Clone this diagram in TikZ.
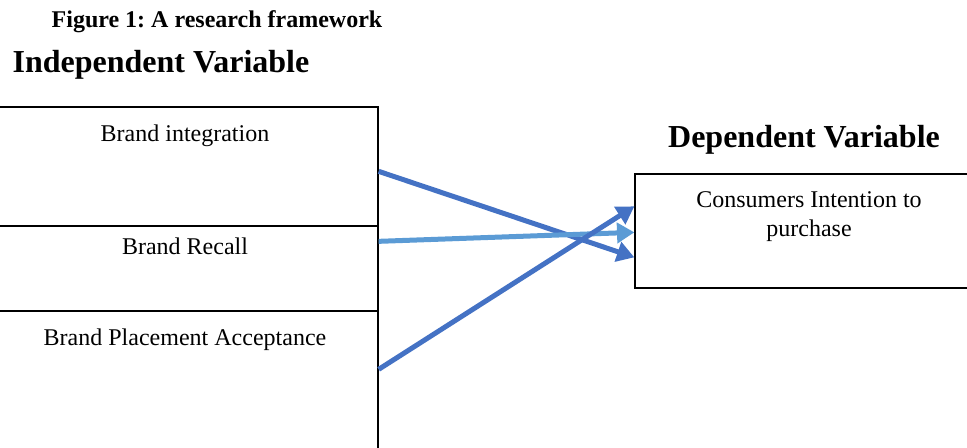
\documentclass[tikz,border=0pt]{standalone}
\usepackage{fontspec}
\setmainfont{Liberation Serif}
\usepackage{xcolor}
\usetikzlibrary{arrows.meta,positioning,calc}
\definecolor{darkblue}{HTML}{4472C4}
\definecolor{lightblue}{HTML}{5B9BD5}
\frenchspacing

\begin{document}
\begin{tikzpicture}[x=0.75pt, y=-0.75pt,
  box/.style={draw, line width=1pt, inner sep=0pt},
  lbl/.style={anchor=base, align=center, font=\fontsize{18}{21.6}\selectfont, inner sep=0pt},
  head/.style={anchor=base, font=\fontsize{24}{28}\selectfont\bfseries, inner sep=0pt},
  arrow/.style={-{Triangle[length=13pt, width=15pt]}, line width=3.75pt}
]
\useasboundingbox (0,0) rectangle (967,447);
\clip (0,0) rectangle (967,447);
\node[anchor=base, font=\fontsize{18}{21.6}\selectfont\bfseries, inner sep=0pt] (fig) at (217,27) {Figure 1: A research framework};
\node[head] (indep) at (161,72) {Independent Variable};
\node[head] (dep) at (804,147) {Dependent Variable};
% independent variables
\node[box, minimum width=298.5pt, minimum height=89.25pt] (int) at (179,166.5) {};
\node[box, minimum width=298.5pt, minimum height=63.75pt] (rec) at (179,268.5) {};
\node[box, minimum width=298.5pt, minimum height=119.25pt] (acc) at (179,390.5) {};
\node[lbl] (intl) at (185,141) {Brand integration};
\node[lbl] (recl) at (185,254) {Brand Recall};
\node[lbl] (accl) at (185,345) {Brand Placement Acceptance};
% dependent variable
\node[box, minimum width=266.25pt, minimum height=85.5pt] (con) at (812.5,231) {};
\node[lbl] (conl) at (809,236) {Consumers Intention to\\purchase};
% links
\draw[arrow, darkblue] ([yshift=-48.75pt]int.north east) -- ([yshift=-63pt]con.north west);
\draw[arrow, lightblue] ([yshift=-12pt]rec.north east) -- ([yshift=-44.25pt]con.north west);
\draw[arrow, darkblue] ([yshift=-44.25pt]acc.north east) -- ([yshift=-24.75pt]con.north west);
\end{tikzpicture}
\end{document}
